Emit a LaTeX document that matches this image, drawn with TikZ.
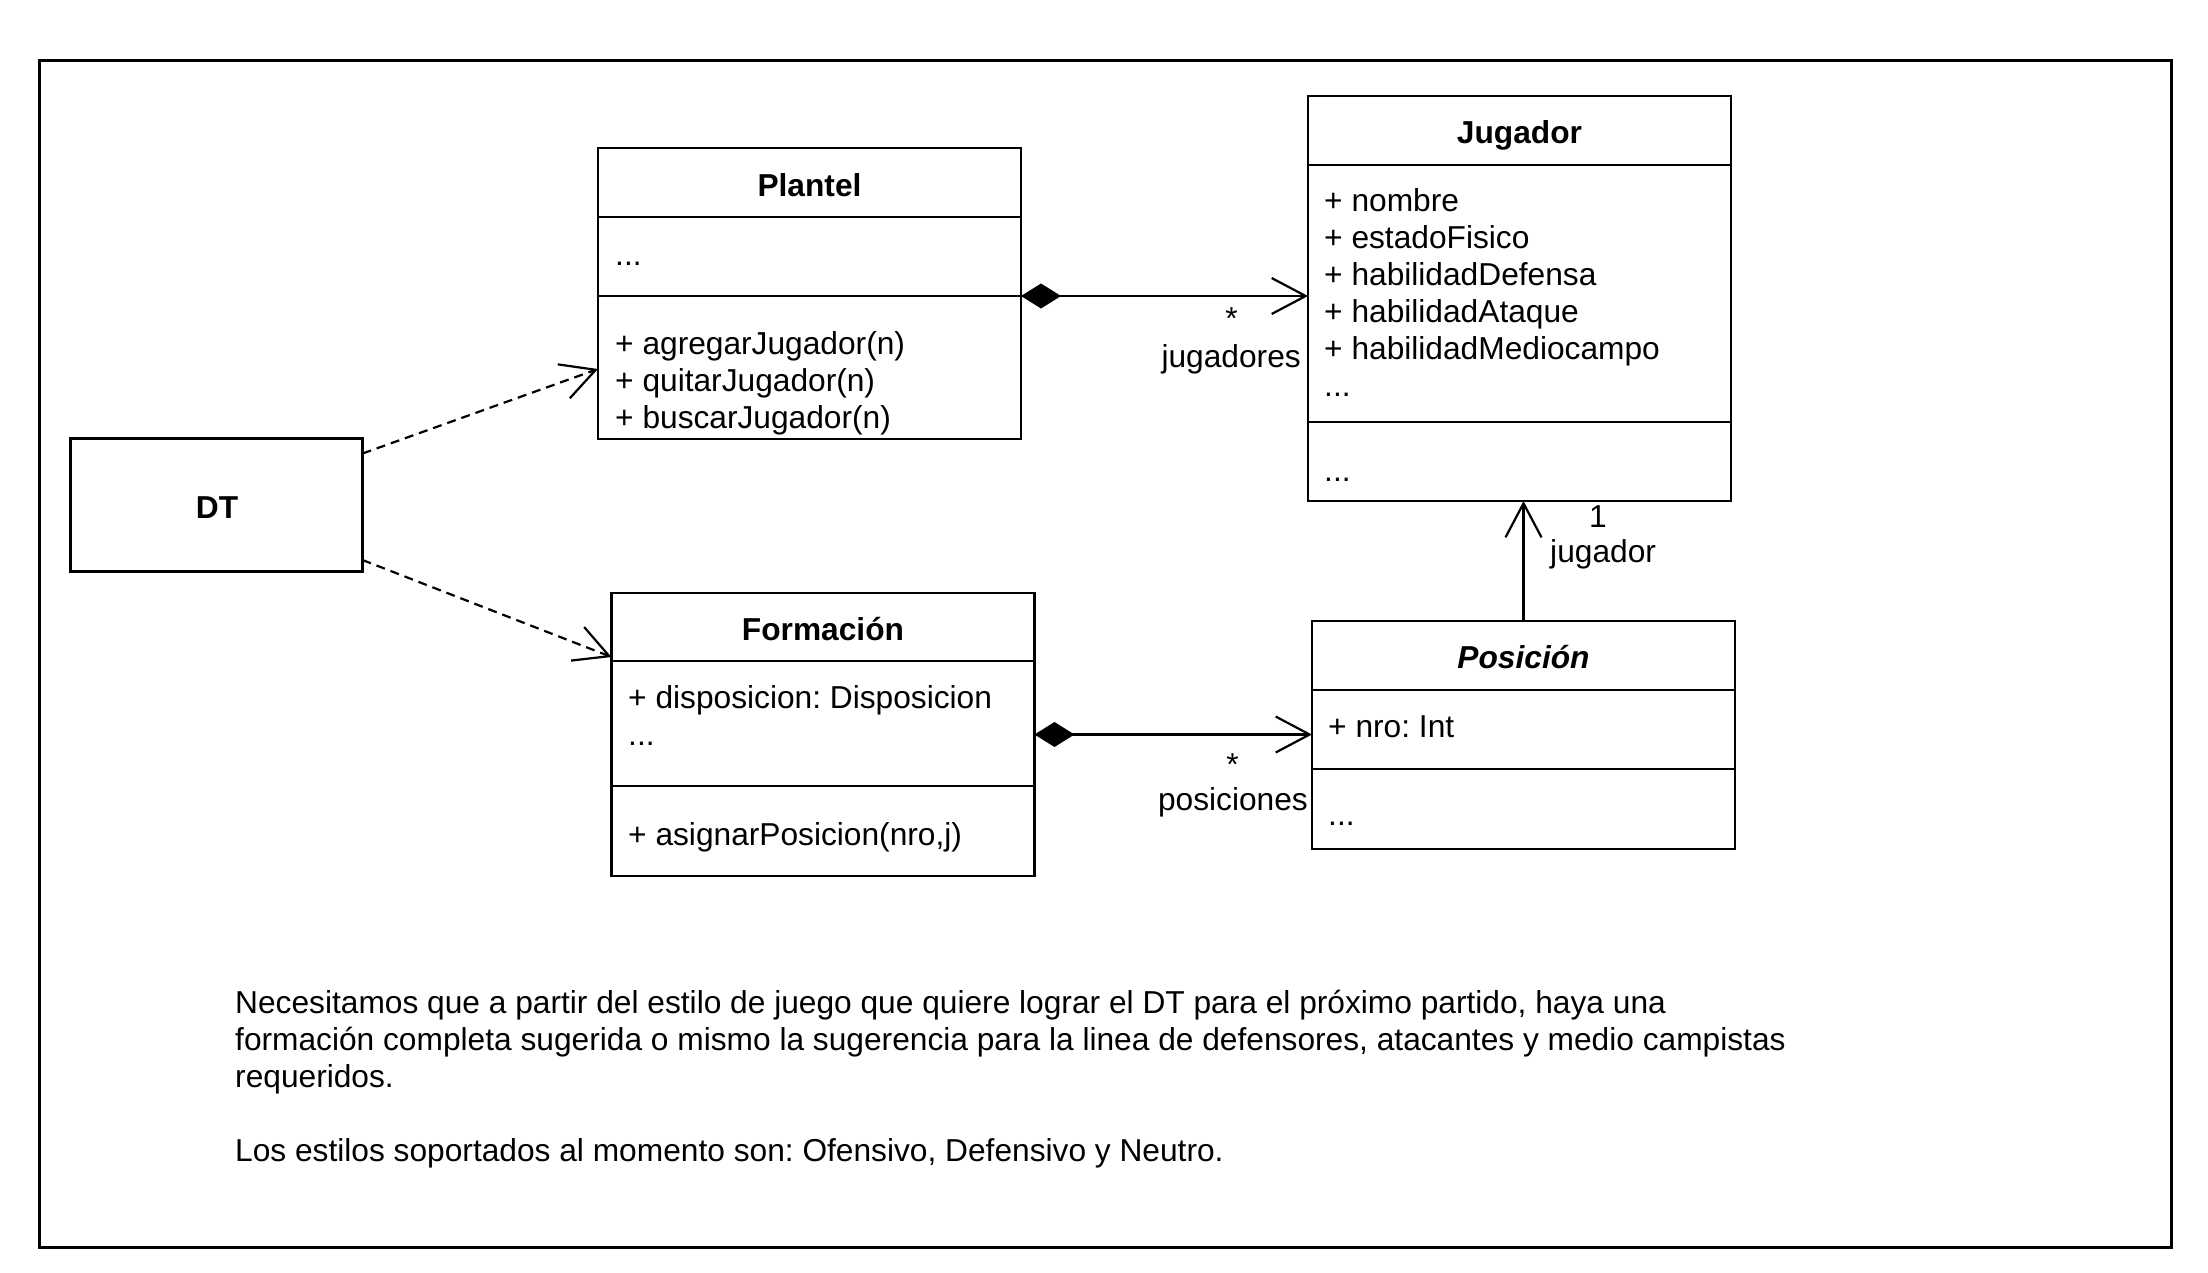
\documentclass[tikz,border=0pt]{standalone}
\usepackage{fontspec}
\setmainfont{Liberation Sans}
\usetikzlibrary{arrows.meta,calc}
\newcommand\fsz{\fontsize{31.7pt}{37pt}\selectfont\frenchspacing}
\begin{document}
\frenchspacing
\begin{tikzpicture}[x=1pt,y=-1pt,
  cls/.style={draw, line width=2.4pt, minimum width=423pt, anchor=north west, inner sep=0pt, outer sep=0pt},
  divline/.style={line width=2.4pt},
  txt/.style={anchor=base west, inner sep=0pt, font=\fsz},
  ttl/.style={anchor=base, inner sep=0pt, font=\fsz\bfseries},
  lbl/.style={inner sep=0pt, font=\fsz},
  comp/.style={line width=2.2pt, {Diamond[length=40pt,width=25pt]}-{Straight Barb[length=34pt,width=36pt]}},
  assoc/.style={line width=2.2pt, -{Straight Barb[length=34pt,width=36pt]}},
  dep/.style={line width=2.2pt, dash pattern=on 9pt off 6pt, -{Straight Barb[length=34pt,width=36pt]}}
]
\useasboundingbox (0,0) rectangle (2208,1272);
\fill[white] (0,0) rectangle (2208,1272);
% outer frame
\node[draw, line width=3.4pt, anchor=north west, inner sep=0pt, minimum width=2132pt, minimum height=1187pt] (frame) at (38,59) {};

% DT
\node[cls, minimum width=292pt, minimum height=133pt] (dt) at (70.5,438.5) {};
\node[lbl, font=\fsz\bfseries, anchor=base] (dtname) at (217,518) {DT};

% Plantel (multi-line nodes are anchored at their last baseline)
\node[cls, minimum height=291pt] (plantel) at (598,148) {};
\draw[divline] ($(plantel.north west)+(0,69)$) -- ++(423,0);
\draw[divline] ($(plantel.north west)+(0,148)$) -- ++(423,0);
\node[ttl] (plantelt) at (809.5,196.5) {Plantel};
\node[txt] (planta) at (615,265) {...};
\node[txt, align=left] (plantm) at (615,428) {+ agregarJugador(n)\\+ quitarJugador(n)\\+ buscarJugador(n)};

% Jugador
\node[cls, minimum height=405pt] (jugador) at (1308,96) {};
\draw[divline] ($(jugador.north west)+(0,69)$) -- ++(423,0);
\draw[divline] ($(jugador.north west)+(0,326)$) -- ++(423,0);
\node[ttl] (jugadort) at (1519.5,143.5) {Jugador};
\node[txt, align=left] (jugadora) at (1324,396) {+ nombre\\+ estadoFisico\\+ habilidadDefensa\\+ habilidadAtaque\\+ habilidadMediocampo\\...};
\node[txt] (jugadorm) at (1324,481) {...};

% Formacion
\node[cls, minimum height=283pt] (formacion) at (611.5,593) {};
\draw[divline] ($(formacion.north west)+(0,68)$) -- ++(423,0);
\draw[divline] ($(formacion.north west)+(0,193)$) -- ++(423,0);
\node[ttl] (formaciont) at (823,640.5) {Formación};
\node[txt, align=left] (formaciona) at (628,745) {+ disposicion: Disposicion\\...};
\node[txt] (formacionm) at (628,845) {+ asignarPosicion(nro,j)};

% Posicion
\node[cls, minimum height=228pt] (posicion) at (1312,621) {};
\draw[divline] ($(posicion.north west)+(0,69)$) -- ++(423,0);
\draw[divline] ($(posicion.north west)+(0,148)$) -- ++(423,0);
\node[ttl, font=\fsz\bfseries\itshape] (posiciont) at (1523.5,668.5) {Posición};
\node[txt] (posiciona) at (1328,737) {+ nro: Int};
\node[txt] (posicionm) at (1328,825) {...};

% connectors
\draw[comp] ([yshift=-2.5pt]plantel.east) -- ([yshift=-2.5pt]plantel.east -| jugador.west);
\draw[comp] (formacion.east) -- (formacion.east -| posicion.west);
\draw[assoc] (posicion.north) -- (posicion.north |- jugador.south);
\draw[dep] ([yshift=-15pt]dt.north east) -- ([yshift=70pt]plantel.south west);
\draw[dep] ([yshift=11.5pt]dt.south east) -- ([yshift=-64pt]formacion.north west);

% connector labels
\node[lbl, anchor=base east] (star1) at (1238,329) {*};
\node[lbl, anchor=base east] (role1) at (1301,367) {jugadores};
\node[lbl, anchor=base east] (star2) at (1239,775) {*};
\node[lbl, anchor=base east] (role2) at (1308,810) {posiciones};
\node[lbl, anchor=base west] (mult3) at (1589,527) {1};
\node[lbl, anchor=base west] (role3) at (1550,562) {jugador};

% note
\node[txt, align=left] (note) at (235,1161) {Necesitamos que a partir del estilo de juego que quiere lograr el DT para el próximo partido, haya una\\formación completa sugerida o mismo la sugerencia para la linea de defensores, atacantes y medio campistas\\requeridos.\\[37pt]Los estilos soportados al momento son: Ofensivo, Defensivo y Neutro.};
\end{tikzpicture}
\end{document}
